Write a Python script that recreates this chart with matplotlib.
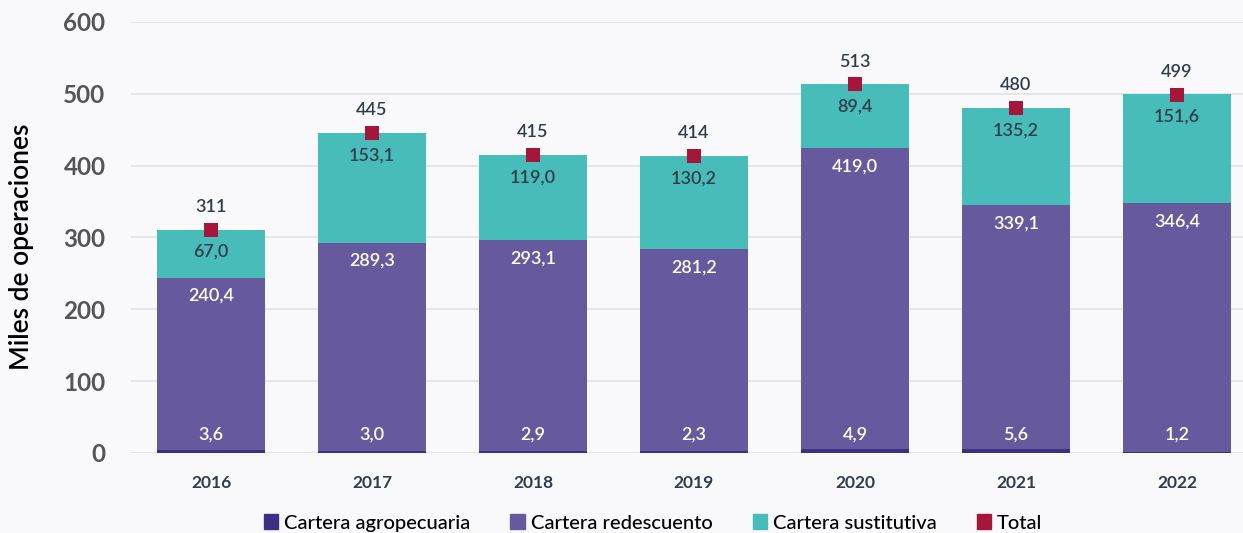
import matplotlib.pyplot as plt
import numpy as np
from matplotlib.patches import Patch

years = ["2016", "2017", "2018", "2019", "2020", "2021", "2022"]
agropecuaria = [3.6, 3.0, 2.9, 2.3, 4.9, 5.6, 1.2]
redescuento = [240.4, 289.3, 293.1, 281.2, 419.0, 339.1, 346.4]
sustitutiva = [67.0, 153.1, 119.0, 130.2, 89.4, 135.2, 151.6]
total = [311, 445, 415, 414, 513, 480, 499]
legend_labels = ["Cartera agropecuaria", "Cartera redescuento", "Cartera sustitutiva", "Total"]

c_agro = "#3e2f86"
c_red = "#67599e"
c_sus = "#48bcb8"
c_tot = "#a6163a"
txt_dark = "#333c4e"
bg = "#f9f9fc"

plt.rcParams['font.family'] = ['Lato', 'DejaVu Sans']

W, H = 1243, 533
fig = plt.figure(figsize=(W / 100, H / 100), dpi=100, facecolor=bg)
left = 130.5 / W
width = 161 * 7 / W
bottom = (H - 453) / H
height = (453 - 22) / H
ax = fig.add_axes([left, bottom, width, height], facecolor=bg)

x = np.arange(len(years))
bw = 0.67
a = np.array(agropecuaria)
r = np.array(redescuento)
s = np.array(sustitutiva)
t = np.array(total)

ax.bar(x, a, bw, color=c_agro, zorder=3)
ax.bar(x, r, bw, bottom=a, color=c_red, zorder=3)
ax.bar(x, s, bw, bottom=a + r, color=c_sus, zorder=3)
ax.scatter(x, t, marker='s', s=90, color=c_tot, zorder=5, linewidths=0)

def fmt(v):
    return f"{v:.1f}".replace(".", ",")

for i in range(len(years)):
    ax.text(x[i], 25, fmt(a[i]), ha='center', va='center', color='white', fontsize=13, fontweight='semibold', zorder=6)
    ax.text(x[i], a[i] + r[i] - 25, fmt(r[i]), ha='center', va='center', color='white', fontsize=13, fontweight='semibold', zorder=6)
    ax.text(x[i], a[i] + r[i] + s[i] - 31, fmt(s[i]), ha='center', va='center', color=txt_dark, fontsize=13, fontweight='semibold', zorder=6)
    ax.text(x[i], t[i] + 32, f"{t[i]}", ha='center', va='center', color=txt_dark, fontsize=13, fontweight='semibold', zorder=6)

ax.set_xlim(-0.5, 6.5)
ax.set_ylim(0, 600)
ax.set_yticks(range(0, 601, 100))
ax.yaxis.grid(True, color="#e2e2e6", linewidth=1.2, zorder=0)
ax.set_axisbelow(True)
for sp in ax.spines.values():
    sp.set_visible(False)
ax.tick_params(axis='both', length=0)
ax.set_xticks(x)
ax.set_xticklabels(years, fontsize=12.5, fontweight='bold', color=txt_dark)
ax.tick_params(axis='x', pad=16)
ax.tick_params(axis='y', pad=18)
for lbl in ax.get_yticklabels():
    lbl.set_fontsize(17.5)
    lbl.set_fontweight('bold')
    lbl.set_color("#555555")

fig.text(22 / W, 1 - 247 / H, "Miles de operaciones", rotation=90, ha='center', va='center',
         fontsize=19, fontweight='semibold', color='black')

hs = [Patch(color=c_agro), Patch(color=c_red), Patch(color=c_sus), Patch(color=c_tot)]
leg = fig.legend(hs, legend_labels, loc='center', bbox_to_anchor=(653 / W, 1 - 523 / H), ncol=4,
                 frameon=False, fontsize=14.5, handlelength=0.7, handleheight=0.7, handletextpad=0.3,
                 columnspacing=2.0)
for tx in leg.get_texts():
    tx.set_color('black')
    tx.set_fontweight('medium')

fig.savefig("out.png", dpi=100, facecolor=bg)
